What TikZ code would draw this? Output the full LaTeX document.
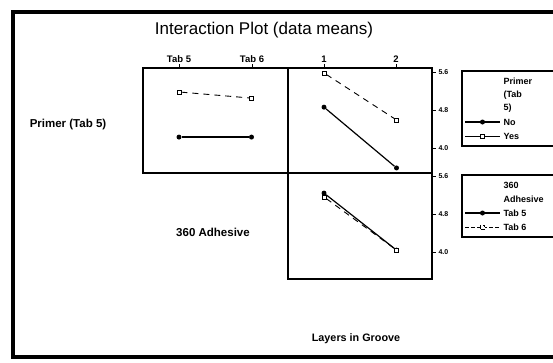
\documentclass[tikz,border=0pt]{standalone}
\usepackage{fontspec}
\setmainfont{Liberation Sans}
\usetikzlibrary{positioning}
\tikzset{
  lab/.style={font=\bfseries\fontsize{#1}{#1}\selectfont},
  ptno/.style={circle,fill=black,inner sep=0pt,minimum size=5pt},
  ptyes/.style={rectangle,draw,fill=white,inner sep=0pt,minimum size=4pt,line width=0.8pt},
  dashln/.style={line width=0.9pt,dash pattern=on 6pt off 5pt},
  solidln/.style={line width=1.2pt},
}
\begin{document}
\begin{tikzpicture}[x=1pt,y=-1pt]
\useasboundingbox (0,0) rectangle (553,362);
\draw[line width=4pt] (12.5,12) rectangle (590,357);
\node[font=\fontsize{17}{20}\selectfont] (title) at (264,30) {Interaction Plot (data means)};
\draw[line width=1.2pt] (143,68) rectangle (288,173);
\draw[line width=1.2pt] (288,68) rectangle (432,173);
\draw[line width=1.2pt] (288,173) rectangle (432,279);
\foreach \x/\t in {179/Tab 5,252/Tab 6,324/1,396/2} {\draw[line width=1pt] (\x,68) -- (\x,64) node[above,lab=9.5,inner sep=1pt] {\t};}
\foreach \y/\v in {72/5.6,110/4.8,148/4.0,176/5.6,214/4.8,252/4.0} {\draw[line width=1pt] (432,\y) -- (436,\y) node[right,lab=7,inner sep=2pt] {\v};}
\begin{scope}[shift={(106.5pt,-338pt)},x=72.5pt,y=47.5pt]
\node[ptyes] (y5) at (1,5.18) {};
\node[ptyes] (y6) at (2,5.05) {};
\node[ptno] (n5) at (1,4.23) {};
\node[ptno] (n6) at (2,4.23) {};
\draw[dashln] (y5) -- (y6);
\draw[solidln] (n5) -- (n6);
\end{scope}
\begin{scope}[shift={(251.5pt,-338pt)},x=72.5pt,y=47.5pt]
\node[ptyes] (y1) at (1,5.58) {};
\node[ptyes] (y2) at (2,4.59) {};
\node[ptno] (n1) at (1,4.86) {};
\node[ptno] (n2) at (2,3.58) {};
\draw[dashln] (y1) -- (y2);
\draw[solidln] (n1) -- (n2);
\end{scope}
\begin{scope}[shift={(251.5pt,-442pt)},x=72.5pt,y=47.5pt]
\node[ptno] (t51) at (1,5.24) {};
\node[ptno] (t52) at (2,4.04) {};
\node[ptyes] (t61) at (1,5.16) {};
\node[ptyes] (t62) at (2,4.04) {};
\draw[solidln] (t51) -- (t52);
\draw[dashln] (t61) -- (t62);
\end{scope}
\node[lab=11.5] (prim) at (68,125) {Primer (Tab 5)};
\node[lab=11.5] (adh) at (213,232) {360 Adhesive};
\node[lab=10.8] (layers) at (356,339) {Layers in Groove};
\draw[line width=1.2pt] (462,71) rectangle (590,146);
\node[lab=9,anchor=west] (lg1a) at (500,81) {Primer};
\node[lab=9,anchor=west] (lg1b) at (500,95) {(Tab};
\node[lab=9,anchor=west] (lg1c) at (500,108) {5)};
\node[lab=9,anchor=west] (lgno) at (500,122) {No};
\node[lab=9,anchor=west] (lgyes) at (500,136) {Yes};
\draw[solidln] (465,122) -- node[ptno] (mno) {} (lgno.west);
\draw[line width=0.9pt] (465,136) -- node[ptyes] (myes) {} (lgyes.west);
\draw[line width=1.2pt] (462,175) rectangle (590,237);
\node[lab=9,anchor=west] (lg2a) at (500,185) {360};
\node[lab=9,anchor=west] (lg2b) at (500,199) {Adhesive};
\node[lab=9,anchor=west] (lgt5) at (500,213) {Tab 5};
\node[lab=9,anchor=west] (lgt6) at (500,227) {Tab 6};
\draw[solidln] (465,213) -- node[ptno] (mt5) {} (lgt5.west);
\draw[line width=0.9pt,dash pattern=on 4pt off 2pt] (465,227) -- node[ptyes] (mt6) {} (lgt6.west);
\end{tikzpicture}
\end{document}
